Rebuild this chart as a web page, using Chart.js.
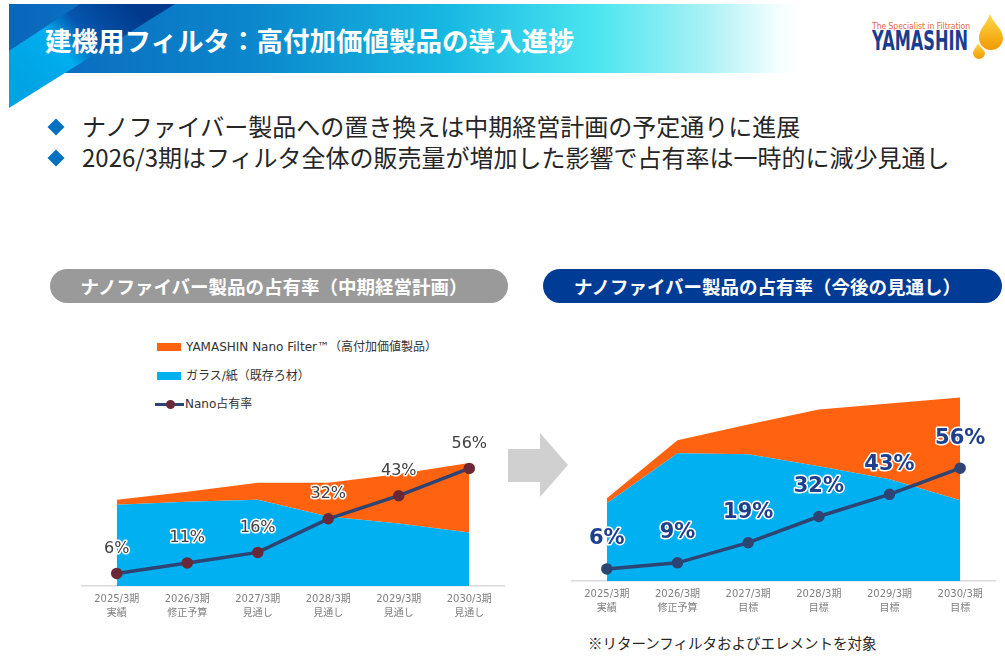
<!DOCTYPE html>
<html lang="ja">
<head>
<meta charset="utf-8">
<script src="https://cdn.jsdelivr.net/npm/chart.js@4.4.1/dist/chart.umd.min.js"></script>
<style>
  html, body { margin: 0; padding: 0; background: #fff; }
  body { width: 1005px; height: 663px; position: relative; overflow: hidden;
         font-family: "Noto Sans CJK JP", sans-serif; color: #262626; }
  .abs { position: absolute; }
  .title { left: 45px; top: 24px; font-size: 26.5px; font-weight: bold; color: #fff; line-height: 32px; white-space: nowrap; }
  .dia { width: 12px; height: 12px; background: #0070c0; transform: rotate(45deg); }
  .bullet { left: 82px; font-size: 24px; line-height: 30px; white-space: nowrap; color: #262626; }
  .pill { height: 34px; border-radius: 17px; color: #fff; font-weight: bold; font-size: 18.5px;
          line-height: 34px; text-align: center; white-space: nowrap; box-sizing: border-box; padding-right: 10px; }
  .lg { font-family: "DejaVu Sans", "Noto Sans CJK JP", sans-serif; font-size: 12px; line-height: 16px; color: #333; white-space: nowrap; }
  .sw { width: 24px; height: 8px; }
  .note { left: 588px; top: 633px; font-size: 14.5px; line-height: 20px; color: #262626; white-space: nowrap; }
</style>
</head>
<body>

<svg class="abs" style="left:0;top:0" width="1005" height="115">
  <defs>
    <linearGradient id="bg" x1="9" y1="0" x2="804" y2="0" gradientUnits="userSpaceOnUse">
      <stop offset="0" stop-color="#0a66bb"/>
      <stop offset="0.3" stop-color="#0b86cc"/>
      <stop offset="0.55" stop-color="#17b8e2"/>
      <stop offset="0.74" stop-color="#4be6f0"/>
      <stop offset="0.87" stop-color="#a5f0f5"/>
      <stop offset="0.97" stop-color="#f5feff"/>
      <stop offset="1" stop-color="#ffffff"/>
    </linearGradient>
    <linearGradient id="band" x1="130" y1="4" x2="30" y2="90" gradientUnits="userSpaceOnUse">
      <stop offset="0" stop-color="#013a8c"/>
      <stop offset="0.4" stop-color="#0556ae"/>
      <stop offset="0.62" stop-color="#00aeef"/>
      <stop offset="1" stop-color="#00a4e4"/>
    </linearGradient>
    <linearGradient id="drop" x1="0" y1="0" x2="0" y2="1">
      <stop offset="0" stop-color="#ffd84a"/>
      <stop offset="1" stop-color="#f09a00"/>
    </linearGradient>
  </defs>
  <rect x="9" y="4" width="795" height="69" fill="url(#bg)"/>
  <polygon points="9,51 80,4 175,4 9,108" fill="url(#band)"/>
  <text x="872" y="29" font-family="DejaVu Sans" font-size="9.5" fill="#e8643a" textLength="98" lengthAdjust="spacingAndGlyphs">The Specialist in Filtration</text>
  <text x="872" y="50" font-family="DejaVu Sans" font-weight="bold" font-size="26" fill="#1b3d8f" textLength="96" lengthAdjust="spacingAndGlyphs">YAMASHIN</text>
  <path d="M990 14 C993 23 1003 29 1003 38 A12 12 0 0 1 979 38 C979 29 987 23 990 14 Z" fill="url(#drop)"/>
  <path d="M978 43 C980 48 985 50 985 53 A6 6 0 0 1 973 53 C973 50 976 48 978 43 Z" fill="url(#drop)"/>
</svg>
<div class="abs title">建機用フィルタ：高付加価値製品の導入進捗</div>

<div class="abs dia" style="left:50px;top:121px"></div>
<div class="abs bullet" style="top:111px">ナノファイバー製品への置き換えは中期経営計画の予定通りに進展</div>
<div class="abs dia" style="left:50px;top:152px"></div>
<div class="abs bullet" style="top:142px">2026/3期はフィルタ全体の販売量が増加した影響で占有率は一時的に減少見通し</div>

<div class="abs pill" style="left:50px;top:269px;width:458px;background:#9a9a9a">ナノファイバー製品の占有率（中期経営計画）</div>
<div class="abs pill" style="left:543px;top:269px;width:459px;background:#003c96">ナノファイバー製品の占有率（今後の見通し）</div>

<div class="abs sw" style="left:157px;top:343px;background:#ff6310"></div>
<div class="abs lg" style="left:186px;top:339px">YAMASHIN Nano Filter™（高付加価値製品）</div>
<div class="abs sw" style="left:157px;top:372px;background:#00b0f0"></div>
<div class="abs lg" style="left:186px;top:368px">ガラス/紙（既存ろ材）</div>
<div class="abs" style="left:155px;top:403px;width:29px;height:3px;background:#2e4473"></div>
<div class="abs" style="left:166px;top:400px;width:9px;height:9px;border-radius:50%;background:#6b2838"></div>
<div class="abs lg" style="left:185px;top:396px">Nano占有率</div>

<svg class="abs" style="left:505px;top:428px" width="70" height="75">
  <polygon points="3,21 35,21 35,5 63,37 35,69 35,54 3,54" fill="#d0d0d0"/>
</svg>

<div class="abs" style="left:74px;top:400px;width:438px;height:226px"><canvas id="leftChart"></canvas></div>
<div class="abs" style="left:564px;top:380px;width:439px;height:241px"><canvas id="rightChart"></canvas></div>

<div class="abs note">※リターンフィルタおよびエレメントを対象</div>

<script>
const years = ["2025/3期", "2026/3期", "2027/3期", "2028/3期", "2029/3期", "2030/3期"];
const leftSub = ["実績", "修正予算", "見通し", "見通し", "見通し", "見通し"];
const rightSub = ["実績", "修正予算", "目標", "目標", "目標", "目標"];

// 中期経営計画 (販売量の相対値)
const leftGlass = [82, 85, 87, 70, 63, 54];
const leftNano = [5, 10, 17, 34, 50, 70];
const leftShare = [6, 11, 16, 32, 43, 56];

// 今後の見通し
const rightGlass = [78, 128, 127, 115, 102, 81];
const rightNano = [5, 13, 30, 57, 76, 103];
const rightShare = [6, 9, 19, 32, 43, 56];

const ORANGE = "#ff6310";
const BLUE = "#00b0f0";
const NAVY = "#2e4473";

Chart.defaults.font.family = "'DejaVu Sans', 'Noto Sans CJK JP', sans-serif";

const shareLabels = {
  id: "shareLabels",
  afterDatasetsDraw(chart, args, opts) {
    const meta = chart.getDatasetMeta(0);
    const ctx = chart.ctx;
    ctx.save();
    ctx.font = opts.font;
    ctx.textAlign = "center";
    ctx.textBaseline = "middle";
    ctx.lineJoin = "round";
    meta.data.forEach((pt, i) => {
      const txt = chart.data.datasets[0].data[i] + "%";
      const y = pt.y - opts.offset;
      ctx.strokeStyle = "#fff";
      ctx.lineWidth = opts.halo;
      ctx.strokeText(txt, pt.x, y);
      ctx.fillStyle = opts.color;
      ctx.fillText(txt, pt.x, y);
    });
    ctx.restore();
  }
};

function makeChart(id, sub, glass, nano, share, stackMax, shareMax, pointColor, labelOpts) {
  return new Chart(document.getElementById(id), {
    type: "line",
    data: {
      labels: years.map((y, i) => [y, sub[i]]),
      datasets: [
        {
          label: "Nano占有率",
          data: share,
          yAxisID: "y1",
          borderColor: NAVY,
          borderWidth: 3.5,
          pointRadius: 4,
          pointBackgroundColor: pointColor,
          pointBorderColor: pointColor,
          fill: false,
          order: 0
        },
        {
          label: "ガラス/紙（既存ろ材）",
          data: glass,
          yAxisID: "y",
          backgroundColor: BLUE,
          borderWidth: 0,
          pointRadius: 0,
          fill: "origin",
          order: 1
        },
        {
          label: "YAMASHIN Nano Filter™（高付加価値製品）",
          data: nano,
          yAxisID: "y",
          backgroundColor: ORANGE,
          borderWidth: 0,
          pointRadius: 0,
          fill: "-1",
          order: 1
        }
      ]
    },
    options: {
      responsive: true,
      maintainAspectRatio: false,
      animation: false,
      layout: { padding: 0 },
      plugins: {
        legend: { display: false },
        tooltip: { enabled: false },
        shareLabels: labelOpts
      },
      scales: {
        x: {
          offset: true,
          grid: { display: false, drawTicks: false },
          border: { display: true, color: "#d9d9d9", width: 1.5 },
          ticks: {
            color: "#808080",
            font: { size: 10, lineHeight: 1.4 },
            padding: 6,
            maxRotation: 0,
            autoSkip: false
          }
        },
        y: { display: false, stacked: true, min: 0, max: stackMax },
        y1: { display: false, stacked: false, min: 0, max: shareMax }
      }
    },
    plugins: [shareLabels]
  });
}

makeChart("leftChart", leftSub, leftGlass, leftNano, leftShare, 180, 85, "#6b2838",
  { font: "16px 'DejaVu Sans'", color: "#404040", halo: 3, offset: 25 });
makeChart("rightChart", rightSub, rightGlass, rightNano, rightShare, 194, 96, NAVY,
  { font: "bold 21px 'DejaVu Sans'", color: "#1d3f8c", halo: 3, offset: 30 });
</script>
</body>
</html>
